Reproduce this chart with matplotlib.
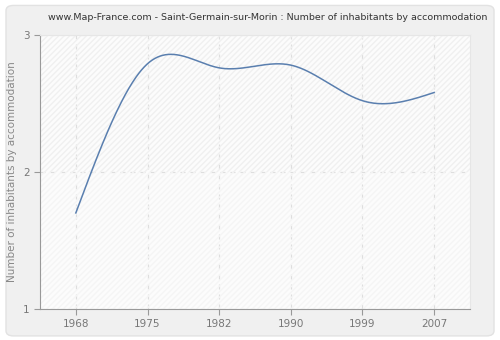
import numpy as np
from matplotlib import pyplot as plt
from matplotlib.patches import FancyBboxPatch

years = ["1968", "1975", "1982", "1990", "1999", "2007"]
values = [1.70, 2.79, 2.76, 2.78, 2.52, 2.58]
y_ticks = [1, 2, 3]
title = "www.Map-France.com - Saint-Germain-sur-Morin : Number of inhabitants by accommodation"
y_label = "Number of inhabitants by accommodation"


def natural_spline(x, y, n=400):
    # natural cubic spline, only used to draw the smooth line
    x = np.asarray(x, float)
    y = np.asarray(y, float)
    k = len(x)
    h = np.diff(x)
    a = np.zeros((k, k))
    b = np.zeros(k)
    a[0, 0] = a[-1, -1] = 1
    for i in range(1, k - 1):
        a[i, i - 1] = h[i - 1]
        a[i, i] = 2 * (h[i - 1] + h[i])
        a[i, i + 1] = h[i]
        b[i] = 6 * ((y[i + 1] - y[i]) / h[i] - (y[i] - y[i - 1]) / h[i - 1])
    m = np.linalg.solve(a, b)
    xs = np.linspace(x[0], x[-1], n)
    idx = np.clip(np.searchsorted(x, xs) - 1, 0, k - 2)
    x0, x1 = x[idx], x[idx + 1]
    hh = x1 - x0
    t0, t1 = x1 - xs, xs - x0
    ys = (m[idx] * t0 ** 3 + m[idx + 1] * t1 ** 3) / (6 * hh) \
        + (y[idx] / hh - m[idx] * hh / 6) * t0 \
        + (y[idx + 1] / hh - m[idx + 1] * hh / 6) * t1
    return xs, ys


fig = plt.figure(figsize=(5, 3.4), dpi=100)
fig.patch.set_facecolor("white")
frame = FancyBboxPatch((0.012, 0.012), 0.976, 0.972, boxstyle="round,pad=0,rounding_size=0.015",
                       transform=fig.transFigure, facecolor="#f0f0f0", edgecolor="#e2e2e2",
                       linewidth=1, zorder=-10)
fig.patches.append(frame)

ax = fig.add_axes([0.08, 0.092, 0.86, 0.805])
ax.set_facecolor("#fcfcfc")
ax.fill_between([-0.5, 5.5], 2, 3, facecolor="none", edgecolor="#f0f0f0", hatch="//////", linewidth=0)
ax.fill_between([-0.5, 5.5], 1, 2, facecolor="none", edgecolor="#f5f5f5", hatch="//////", linewidth=0)

x = np.arange(len(years))
xs, ys = natural_spline(x, values)
ax.plot(xs, ys, color="#5a7faf", linewidth=1.1, zorder=3)

ax.set_xlim(-0.5, len(years) - 0.5)
ax.set_ylim(1, 3)
ax.set_xticks(x)
ax.set_xticklabels(years)
ax.set_yticks(y_ticks)
ax.grid(True, color="#dedede", linestyle=(0, (4, 4)), linewidth=0.9)
ax.set_axisbelow(True)

for side in ("top", "right"):
    ax.spines[side].set_color("#e6e6e6")
for side in ("left", "bottom"):
    ax.spines[side].set_color("#999999")
ax.tick_params(colors="#999999", labelcolor="#777777", labelsize=7.5, length=4)
ax.set_ylabel(y_label, color="#888888", fontsize=7.5)
fig.text(0.535, 0.948, title, color="#333333", fontsize=6.8, ha="center", va="center")

plt.savefig("out.png", dpi=100, facecolor=fig.get_facecolor())
